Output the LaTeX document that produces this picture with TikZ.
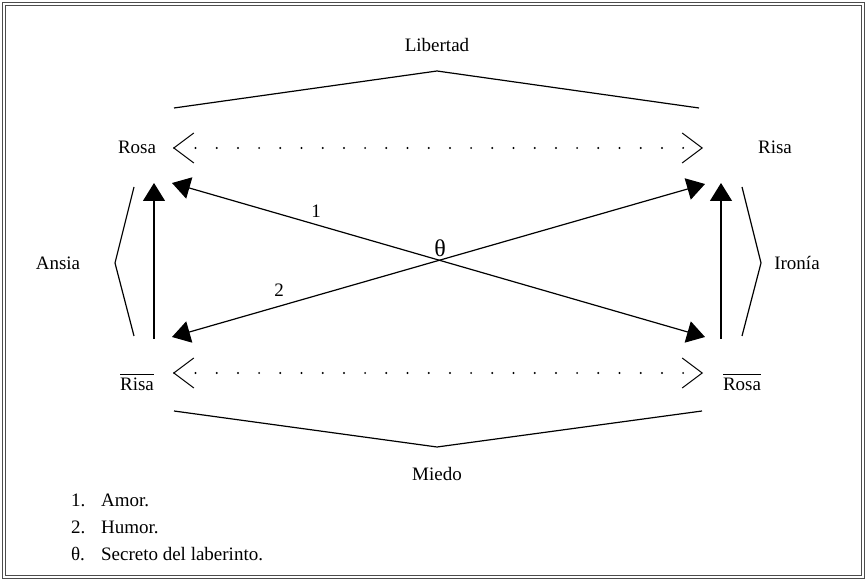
\documentclass[tikz,border=0pt]{standalone}
\usepackage{fontspec}
\setmainfont{Liberation Serif}
\usetikzlibrary{arrows.meta}

\begin{document}
\begin{tikzpicture}[x=0.5pt,y=-0.5pt,
    font=\fontsize{9.5}{11}\selectfont,
    Bracket/.style={line width=0.6pt},
    Link/.style={line width=0.6pt,{Triangle[length=9pt,width=11pt]}-{Triangle[length=9pt,width=11pt]}},
    Up/.style={line width=0.6pt,-{Triangle[length=9pt,width=11pt]}},
    Opp/.style={line width=1.1pt,line cap=round,dash pattern=on 0pt off 10.6pt,
      {Straight Barb[length=10pt,width=15pt,line width=0.5pt]}-{Straight Barb[length=10pt,width=15pt,line width=0.5pt]}}]
    \useasboundingbox (0,0) rectangle (867,581);
    \draw[black!70,line width=0.5pt,double,double distance=1pt] (4,4) rectangle (863,577);

    % corners of the square
    \node (rosa) at (137,147){Rosa};
    \node (risa) at (775,147){Risa};
    \node (nrisa) at (137,382){$\overline{\mbox{Risa}}$};
    \node (nrosa) at (742,382){$\overline{\mbox{Rosa}}$};

    \node (libertad) at (437,45){Libertad};
    \node (miedo) at (437,474){Miedo};
    \node (ansia) at (58,263){Ansia};
    \node (ironia) at (797,263){Ironía};

    \coordinate (tl) at (172,183);
    \coordinate (tr) at (705,184);
    \coordinate (bl) at (172,337);
    \coordinate (br) at (705,337);
    \coordinate (lup) at (154,183);
    \coordinate (ldown) at (154,339);
    \coordinate (rup) at (721,183);
    \coordinate (rdown) at (721,339);
    \coordinate (dl1) at (173,148);
    \coordinate (dr1) at (703,148);
    \coordinate (dl2) at (173,373);
    \coordinate (dr2) at (703,373);

    % brackets
    \coordinate (t) at (437,71);
    \coordinate (b) at (437,447);
    \coordinate (l) at (115,263);
    \coordinate (r) at (761,263);
    \draw[Bracket] (174,108) -- (t) -- (699,108);
    \draw[Bracket] (174,411) -- (b) -- (702,411);
    \draw[Bracket] (134,187) -- (l) -- (134,336);
    \draw[Bracket] (742,187) -- (r) -- (742,336);

    % contraries
    \draw[Opp] (dl1) -- (dr1);
    \draw[Opp] (dl2) -- (dr2);

    % arrows
    \draw[Up] (ldown) -- (lup);
    \draw[Up] (rdown) -- (rup);
    \draw[Link] (tl) -- (br);
    \draw[Link] (bl) -- (tr);

    \node (one) at (316,211){1};
    \node (two) at (279,290){2};
    \node (theta) at (440,248){\large θ};

    % legend
    \node[anchor=west] (k1) at (64,500){1.};
    \node[anchor=west] (k2) at (64,527){2.};
    \node[anchor=west] (k3) at (64,554){θ.};
    \node[anchor=west] (t1) at (94,500){Amor.};
    \node[anchor=west] (t2) at (94,527){Humor.};
    \node[anchor=west] (t3) at (94,554){Secreto del laberinto.};
\end{tikzpicture}
\end{document}
